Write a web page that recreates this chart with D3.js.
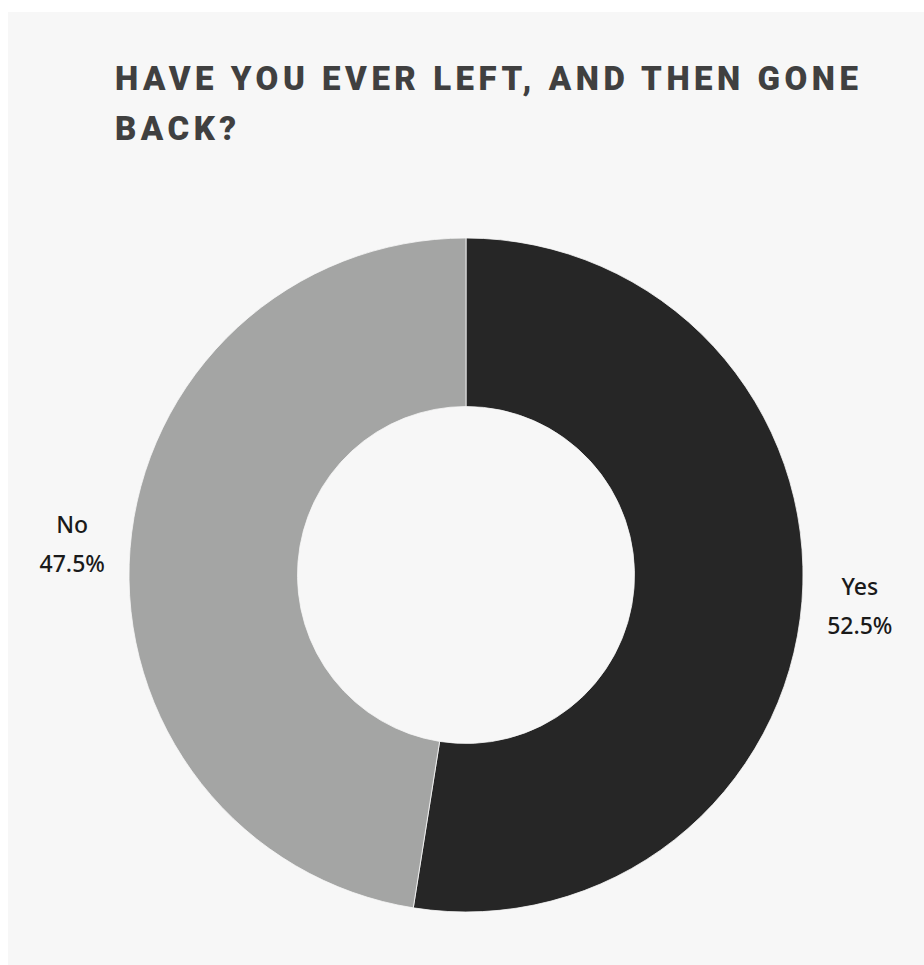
<!DOCTYPE html>
<html>
<head>
<meta charset="utf-8">
<script src="https://cdn.jsdelivr.net/npm/d3@7"></script>
<style>
  html, body { margin: 0; padding: 0; background: #ffffff; }
  svg { display: block; }
</style>
</head>
<body>
<div id="chart"></div>
<script>
// Survey answers and their shares (percent)
const categories = ["Yes", "No"];
const shares = [52.5, 47.5];
const sliceColors = ["#262626", "#a4a5a4"];
const titleLines = ["HAVE YOU EVER LEFT, AND THEN GONE", "BACK?"];

const width = 924, height = 965;
const cx = 466, cy = 575;
const outerR = 337, innerR = 168.5, labelR = 395;

const svg = d3.select("#chart").append("svg")
  .attr("width", width)
  .attr("height", height);

// Light panel behind the chart
svg.append("rect")
  .attr("x", 8).attr("y", 12)
  .attr("width", width - 8).attr("height", height - 12)
  .attr("fill", "#f7f7f7");

// Title, two lines, letter-spaced to a fixed measure
const title = svg.append("g");
titleLines.forEach((line, i) => {
  title.append("text")
    .attr("x", 115)
    .attr("y", 90 + i * 50)
    .attr("fill", "#404040")
    .style("font-family", "Roboto, sans-serif")
    .style("font-weight", "900")
    .style("font-size", "33px")
    .text(line);
});
// space out the first line so it spans its measure; reuse the same spacing on line 2
const first = title.select("text").node();
const natural = first.getComputedTextLength();
const spacing = (743 - natural) / (titleLines[0].length - 1);
title.selectAll("text").style("letter-spacing", spacing + "px");

// Donut
const data = categories.map((c, i) => ({ name: c, value: shares[i], color: sliceColors[i] }));
const pie = d3.pie().sort(null).value(d => d.value);
const arcs = pie(data);
const arc = d3.arc().innerRadius(innerR).outerRadius(outerR);

const g = svg.append("g").attr("transform", `translate(${cx},${cy})`);
g.selectAll("path.slice")
  .data(arcs)
  .join("path")
  .attr("class", "slice")
  .attr("d", arc)
  .attr("fill", d => d.data.color)
  .attr("stroke", "#f7f7f7")
  .attr("stroke-width", 0.8);

// Outside labels: name over percentage, centred on each slice's mid-angle
const labelArc = d3.arc().innerRadius(labelR).outerRadius(labelR);
const labels = g.selectAll("g.label")
  .data(arcs)
  .join("g")
  .attr("class", "label")
  .attr("transform", d => `translate(${labelArc.centroid(d)})`);

labels.append("text")
  .attr("text-anchor", "middle")
  .attr("fill", "#1a1a1a")
  .style("font-family", "'Noto Sans', sans-serif")
  .style("font-weight", "500")
  .style("font-size", "23px")
  .selectAll("tspan")
  .data(d => [d.data.name, d.data.value.toFixed(1) + "%"])
  .join("tspan")
  .attr("x", 0)
  .attr("y", (d, i) => i === 0 ? -11 : 28)
  .text(d => d);
</script>
</body>
</html>
